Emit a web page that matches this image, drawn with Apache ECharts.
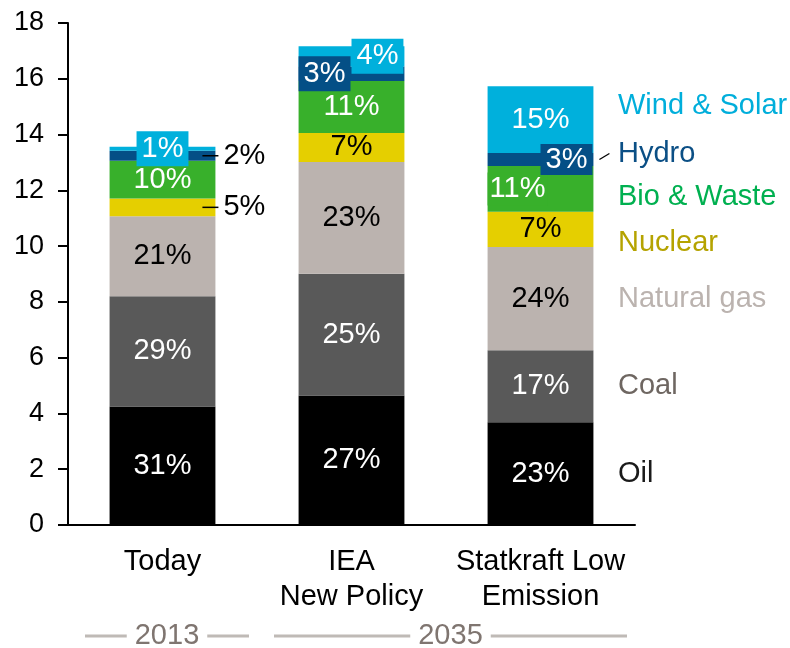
<!DOCTYPE html>
<html>
<head>
<meta charset="utf-8">
<script src="https://cdn.jsdelivr.net/npm/echarts@6/dist/echarts.min.js"></script>
<style>html,body{margin:0;padding:0;background:#fff}#c{width:790px;height:648px}</style>
</head>
<body>
<div id="c"></div>
<script>
// ---- data ----
const categories = ['Today', 'IEA\nNew Policy', 'Statkraft Low\nEmission'];
const seriesNames = ['Oil', 'Coal', 'Natural gas', 'Nuclear', 'Bio & Waste', 'Hydro', 'Wind & Solar'];
const oil     = [4.25, 4.64, 3.68];
const coal    = [3.95, 4.37, 2.59];
const gas     = [2.87, 4.01, 3.70];
const nuclear = [0.64, 1.04, 1.26];
const bio     = [1.35, 1.86, 1.64];
const hydro   = [0.36, 0.52, 0.47];
const wind    = [0.14, 0.73, 2.39];
const oilPct     = [31, 27, 23];
const coalPct    = [29, 25, 17];
const gasPct     = [21, 23, 24];
const nuclearPct = [5, 7, 7];
const bioPct     = [10, 11, 11];
const hydroPct   = [2, 3, 3];
const windPct    = [1, 4, 15];
const yTicks = [0, 2, 4, 6, 8, 10, 12, 14, 16, 18];
const groupLabels = ['2013', '2035'];
const groupFrom = [0, 1];
const groupTo = [0, 2];

// ---- styles ----
const FONT = 'Liberation Sans, Arial, sans-serif';
const FS = 29;
const FS_TICK = 27;
const barColors = ['#000000', '#595959', '#BBB3AF', '#E5CF00', '#38B02B', '#044F86', '#00B0DC'];
const pctColors = ['#fff', '#fff', '#000', '#000', '#fff', '#fff', '#fff'];
const nameColors = ['#1A1A1A', '#6E6661', '#BBB3AF', '#B5A300', '#00B050', '#0B4F85', '#00AEDB'];
const nameDy = [0, 0, 0, 14, 8, -6, -14];
const barGap = 0.44;

const values = [oil, coal, gas, nuclear, bio, hydro, wind];
const pcts = [oilPct, coalPct, gasPct, nuclearPct, bioPct, hydroPct, windPct];

// special label treatments: seriesIndex-categoryIndex
const special = {
  '3-0': {kind: 'leader'},
  '5-0': {kind: 'leader'},
  '6-0': {kind: 'box', position: 'inside', padding: [3, 5], offset: [0, 1]},
  '5-1': {kind: 'box', position: 'insideLeft', distance: 0, padding: [3, 5]},
  '6-1': {kind: 'box', position: 'insideRight', distance: 1, padding: [3, 5], offset: [0, -1]},
  '4-2': {kind: 'box', position: 'insideLeft', distance: 0, padding: [2, 2], offset: [-7, 4]},
  '5-2': {kind: 'box', position: 'insideRight', distance: 1, padding: [1, 5], offset: [0, -3]}
};

function stackCenter(s, i) {
  let base = 0;
  for (let k = 0; k < s; k++) base += values[k][i];
  return base + values[s][i] / 2;
}

const series = seriesNames.map((name, s) => {
  const data = values[s].map((v, i) => {
    const sp = special[s + '-' + i];
    const item = {value: v};
    if (sp && sp.kind === 'leader') {
      item.label = {
        position: 'right', distance: -13,
        formatter: '{l|}{t|' + pcts[s][i] + '%}',
        rich: {
          l: {width: 16, height: 1.5, backgroundColor: '#000', verticalAlign: 'middle'},
          t: {color: '#000', fontSize: FS, fontFamily: FONT, padding: [0, 0, 0, 5], verticalAlign: 'middle'}
        }
      };
    } else if (sp && sp.kind === 'box') {
      item.label = {
        position: sp.position, distance: sp.distance || 0, offset: sp.offset || [0, 0],
        backgroundColor: barColors[s], padding: sp.padding, color: '#fff'
      };
    }
    return item;
  });
  return {
    name: name, type: 'bar', stack: 'total', barCategoryGap: (barGap * 100) + '%',
    itemStyle: {color: barColors[s]},
    label: {
      show: true, position: 'inside', color: pctColors[s], fontSize: FS, fontFamily: FONT,
      formatter: p => pcts[s][p.dataIndex] + '%'
    },
    labelLayout: {hideOverlap: false},
    data: data,
    markPoint: {
      silent: true, symbol: 'circle', symbolSize: 1, itemStyle: {color: 'rgba(0,0,0,0)'},
      label: {
        show: true, position: 'right', distance: 77, offset: [0, nameDy[s]],
        color: nameColors[s], fontSize: FS, fontFamily: FONT, formatter: name
      },
      data: [{coord: [2, stackCenter(s, 2)]}]
    }
  };
});

// leader line for Statkraft hydro label
series.push({
  type: 'custom', silent: true, clip: false, z: 5,
  data: [[2, stackCenter(5, 2)]],
  renderItem: (params, api) => {
    const p = api.coord([api.value(0), api.value(1)]);
    const half = api.size([1, 0])[0] * (1 - barGap) / 2;
    return {type: 'line', shape: {x1: p[0] + half + 6, y1: p[1], x2: p[0] + half + 16, y2: p[1] - 6},
            style: {stroke: '#000', lineWidth: 1.3}};
  }
});

// year group brackets under the axis
series.push({
  type: 'custom', silent: true, clip: false, z: 5,
  data: groupLabels.map((g, i) => [groupFrom[i], groupTo[i]]),
  renderItem: (params, api) => {
    const band = api.size([1, 0])[0];
    const a = api.coord([api.value(0), 0]);
    const b = api.coord([api.value(1), 0]);
    const x1 = a[0] - band / 2 + 17;
    const x2 = b[0] + band / 2 - 8;
    const y = a[1] + 111;
    return {type: 'group', children: [
      {type: 'line', shape: {x1: x1, y1: y, x2: x2, y2: y}, style: {stroke: '#BFBAB6', lineWidth: 3}},
      {type: 'text', style: {text: groupLabels[params.dataIndex], x: (x1 + x2) / 2, y: y,
        align: 'center', verticalAlign: 'middle', fill: '#7F7570', fontSize: FS, fontFamily: FONT,
        backgroundColor: '#fff', padding: [0, 8]}}
    ]};
  }
});

const chart = echarts.init(document.getElementById('c'), null, {renderer: 'canvas'});
chart.setOption({
  animation: false,
  backgroundColor: '#fff',
  grid: {left: 68, right: 155, top: 23, bottom: 123, containLabel: false},
  xAxis: {
    type: 'category', data: categories,
    axisLine: {lineStyle: {color: '#000', width: 2}},
    axisTick: {show: false},
    axisLabel: {color: '#000', fontSize: FS, fontFamily: FONT, lineHeight: 35, margin: 19, interval: 0}
  },
  yAxis: {
    type: 'value', min: yTicks[0], max: yTicks[yTicks.length - 1], interval: yTicks[1] - yTicks[0],
    axisLine: {show: true, lineStyle: {color: '#000', width: 2}},
    axisTick: {show: true, length: 10, lineStyle: {color: '#000', width: 2}},
    splitLine: {show: false},
    axisLabel: {color: '#000', fontSize: FS_TICK, fontFamily: FONT, margin: 24}
  },
  series: series
});
</script>
</body>
</html>
